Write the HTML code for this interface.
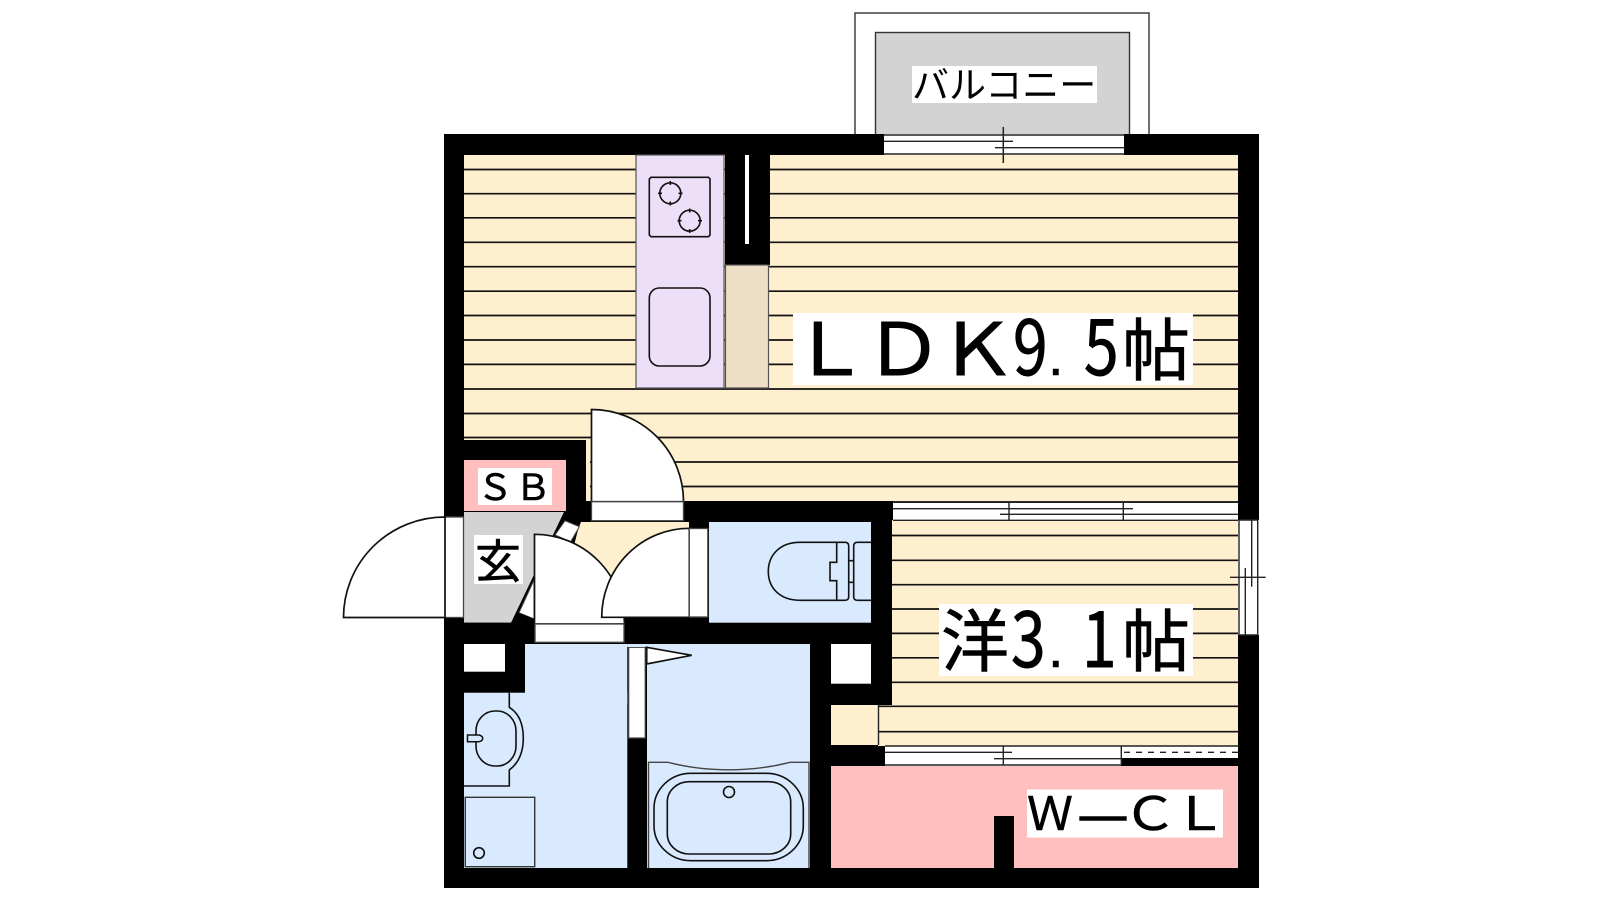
<!DOCTYPE html>
<html lang="ja"><head><meta charset="utf-8"><title>間取り図</title>
<style>
html,body{margin:0;padding:0;background:#fff}
svg{display:block}
text{font-family:"Liberation Sans","Noto Sans CJK JP",sans-serif;fill:#000}
.n{font-family:"Noto Sans CJK JP","Liberation Sans",sans-serif;stroke:#000;stroke-width:.9}
.b{stroke:#000;stroke-width:.6}
.f{stroke:#333;stroke-width:1.3}
.k{fill:none;stroke:#111;stroke-width:1.6}
.d{fill:#fff;stroke:#111;stroke-width:1.7}
.w{fill:#fff;stroke:#444;stroke-width:1.3}
</style></head><body>
<svg width="1600" height="900" viewBox="0 0 1600 900" xmlns="http://www.w3.org/2000/svg">
<rect width="1600" height="900" fill="#fff"/>

<!-- balcony -->
<rect x="855" y="13" width="294" height="125" fill="#fff" stroke="#333" stroke-width="1.4"/>
<rect x="875.5" y="32.5" width="254" height="105" fill="#d3d3d3" stroke="#333" stroke-width="1.4"/>
<rect x="912" y="66" width="185" height="37" fill="#fff"/>
<text x="912" y="98" font-size="37">バルコニー</text>

<!-- outer black mass -->
<rect x="444" y="134" width="815" height="754" fill="#000"/>

<!-- cream rooms -->
<rect x="464" y="155" width="774" height="346" fill="#feefcf"/>
<rect x="892" y="520" width="346" height="226" fill="#feefcf"/>
<rect x="878" y="705" width="360" height="41" fill="#feefcf"/>
<rect x="831" y="705" width="47" height="40" fill="#feefcf"/>
<line x1="878.5" y1="705" x2="878.5" y2="745" stroke="#222" stroke-width="1.4"/>

<!-- floor lines -->
<g stroke="#111" stroke-width="1.7">
<path d="M464 169.5H1238M464 193.7H1238M464 217.8H1238M464 242.3H1238M464 266.7H1238M464 291.2H1238M464 315.5H1238M464 340H1238M464 364.4H1238M464 389H1238M464 413.5H1238M464 437.5H1238M590 462H1238M590 486.5H1238"/>
<path d="M892 535.5H1238M892 560.3H1238M892 584.7H1238M892 609H1238M892 633.4H1238M892 657.8H1238M892 682.3H1238M878 706.3H1238M878 731.7H1238"/>
</g>

<!-- interior black walls over the wood floor -->
<rect x="464" y="440" width="122" height="20" fill="#000"/>
<rect x="566" y="440" width="20" height="70" fill="#000"/>

<!-- SB -->
<rect x="464" y="460" width="102" height="51" fill="#ffbfbf"/>
<rect x="478" y="468" width="74" height="37" fill="#fff"/>
<text class="b" x="477 515" y="500" font-size="36">ＳＢ</text>

<!-- entry corridor fill -->
<rect x="586" y="501" width="105" height="21" fill="#000"/>
<polygon points="580,522 689,522 689,623 612,623 612,600 560,600" fill="#feefcf"/>

<!-- genkan -->
<polygon points="464,512 564,512 511,622.7 464,622.7" fill="#d3d3d3"/>
<polygon points="566,511 591,511 591,522 581,522 573,541 555,535" fill="#000"/>
<polygon points="565,520.7 579.3,526.7 570.7,541.7 555,535" fill="#fff" stroke="#444" stroke-width="1"/>
<polygon points="534,580 534,619 519,612.7" fill="#fff" stroke="#444" stroke-width="1"/>
<polygon points="511,622.7 518,612.7 536,619.5 536,626" fill="#000"/>
<rect x="474" y="535" width="49" height="49" fill="#fff"/>
<text class="b" x="475" y="578" font-size="46">玄</text>

<!-- left door -->
<rect x="445" y="517" width="18.5" height="100.5" class="w"/>
<path d="M445 517A101.5 100.5 0 0 0 343.5 617.5H445Z" class="d"/>

<!-- walls near entry -->
<rect x="444" y="622.7" width="91" height="21.5" fill="#000"/>
<rect x="624" y="617" width="85" height="27" fill="#000"/>
<rect x="689" y="501" width="20" height="28" fill="#000"/>

<!-- door top -->
<path d="M591.5 409.5A92 92 0 0 1 683.5 501.7H591.5Z" class="d"/>
<rect x="591.5" y="501.7" width="92" height="19" class="w"/>

<!-- door center -->
<path d="M534.5 534.3A90 90 0 0 1 624.5 624H534.5Z" class="d"/>
<rect x="535" y="624" width="89" height="18.3" class="w"/>

<!-- door right -->
<path d="M689.3 528.3A87.6 89 0 0 0 601.7 617.3H689.3Z" class="d"/>
<rect x="689.3" y="528.5" width="18.5" height="88.5" class="w"/>

<!-- toilet room -->
<rect x="709" y="522" width="162" height="100.7" fill="#d9eafe"/>
<path d="M836.7 542.3H800C780 542.3 768.3 555 768.3 571.5C768.3 588 780 600.3 800 600.3H836.7" class="k"/>
<path d="M836.7 542.3H845Q848.7 542.3 848.7 546V596.5Q848.7 600.3 845 600.3H836.7V580.7H830V562.3H836.7Z" class="k"/>
<path d="M871 542.3H857.5Q853.7 542.3 853.7 546V596.5Q853.7 600.3 857.5 600.3H871" class="k"/>
<path d="M848.7 560.7H853.7M848.7 582.3H853.7" class="k"/>

<!-- wash room -->
<rect x="464" y="692.7" width="163.3" height="175.3" fill="#d9eafe"/>
<rect x="525" y="644" width="102.3" height="60" fill="#d9eafe"/>
<rect x="464" y="644" width="41" height="27.7" fill="#fff"/>
<path d="M509.3 692.7V707.3C520 714 523.3 726 523.3 738C523.3 750 520 762 509.3 770V786H464" class="k"/>
<rect x="476" y="711" width="40" height="55" rx="19" ry="20" class="k"/>
<path d="M467.5 735H479Q482.7 736 482.7 738.3Q482.7 741 479 741.7H467.5Z" fill="#d9eafe" stroke="#111" stroke-width="1.5"/>
<rect x="465.3" y="797.3" width="69.4" height="69.4" fill="#d9eafe" stroke="#333" stroke-width="1.4"/>
<circle cx="479" cy="853" r="5.3" class="k"/>

<!-- bath -->
<rect x="647" y="644" width="163" height="224" fill="#d9eafe"/>
<rect x="628.7" y="647.3" width="16.5" height="90.7" fill="#fff" stroke="#444" stroke-width="1.2"/>
<rect x="627.3" y="644" width="19.7" height="3" fill="#d9eafe"/>
<polygon points="646.7,647.3 691.7,655.3 646.7,664" class="d"/>
<path d="M648.5 868V762.3H668C690 768 710 769.8 729 769.8C748 769.8 768 768 790 762.3H809V868" fill="#d9eafe" stroke="#444" stroke-width="1.4"/>
<rect x="654" y="773.3" width="149.3" height="87.4" rx="37" ry="35" class="k"/>
<rect x="667.3" y="781.7" width="123.4" height="72.3" rx="22" ry="20" class="k"/>
<circle cx="729" cy="792" r="5.5" class="k"/>

<!-- closet column -->
<rect x="810" y="644" width="21" height="224" fill="#000"/>
<rect x="810" y="683.7" width="82" height="21.3" fill="#000"/>
<rect x="871" y="501" width="21" height="204" fill="#000"/>
<rect x="831" y="644" width="40" height="39.7" fill="#fff"/>

<!-- kitchen -->
<rect x="636" y="155" width="88" height="233" fill="#ecdff7" stroke="#555" stroke-width="1.2"/>
<path d="M651 177.3H708.5L710 179V235L708.5 236.7H651L649.3 235V179Z" class="k"/>
<circle cx="670.3" cy="193.3" r="10.5" class="k"/>
<circle cx="689.7" cy="220.7" r="10.5" class="k"/>
<path d="M670.3 181V185M670.3 201.5V205.5M658 193.3H662M678.5 193.3H682.5M689.7 208.5V212.5M689.7 229V233M677.5 220.7H681.5M698 220.7H702" class="k"/>
<rect x="649.3" y="288" width="60.7" height="78" rx="10" class="k"/>
<rect x="725" y="155" width="45" height="110" fill="#000"/>
<rect x="745" y="155" width="4" height="89" fill="#fff"/>
<rect x="725.5" y="265" width="43" height="123" fill="#eedec5" stroke="#555" stroke-width="1.2"/>

<!-- LDK label -->
<rect x="793" y="313" width="400" height="72" fill="#fff"/>
<g transform="scale(1.1 1)"><text class="n" x="718.3 785.5 852.5" y="375" font-size="72">ＬＤＫ</text></g>
<g transform="translate(1013 375) scale(.82 1)"><text class="n" font-size="76">9</text></g>
<g transform="translate(1084 375) scale(.82 1)"><text class="n" font-size="76">5</text></g>
<text class="b" x="1048" y="375" font-size="56" style="font-family:'Liberation Sans',sans-serif">.</text>
<text class="b" x="1122" y="375" font-size="68">帖</text>

<!-- western label -->
<rect x="939" y="604" width="254" height="72" fill="#fff"/>
<text class="b" x="941" y="666" font-size="68">洋</text>
<g transform="translate(1011 667) scale(.82 1)"><text class="n" font-size="76">3</text></g>
<text class="b" x="1048" y="667" font-size="56" style="font-family:'Liberation Sans',sans-serif">.</text>
<g transform="translate(1082 667) scale(.82 1)"><text class="n" font-size="76">1</text></g>
<text class="b" x="1122" y="666" font-size="68">帖</text>

<!-- top window -->
<rect x="884" y="134" width="240" height="21" fill="#fff"/>
<path d="M884 135H1124M884 154H1124M884 141.3H1013M995 147.7H1124" stroke="#222" stroke-width="1.4" fill="none"/>
<line x1="1003.3" y1="127" x2="1003.3" y2="163" stroke="#222" stroke-width="1.5"/>

<!-- LDK/west window -->
<rect x="893" y="501.5" width="345" height="19" fill="#fff"/>
<path d="M893 502.3H1238M893 520.3H1238M893 508.7H1133M1000 514.3H1238M1009 502V520M1123.3 502V520" stroke="#222" stroke-width="1.4" fill="none"/>

<!-- right window -->
<rect x="1238" y="520" width="21" height="115" fill="#fff"/>
<path d="M1239 520V635M1257.7 520V635M1239 520H1257.7M1239 635H1257.7M1245.3 568V635M1251.7 520V586.7M1230 577.3H1265.7" stroke="#222" stroke-width="1.4" fill="none"/>

<!-- WCL window -->
<rect x="885" y="746" width="353" height="20" fill="#fff"/>
<rect x="1121" y="758" width="117" height="8" fill="#000"/>
<path d="M885 746H1238M885 765H1121M885 752.3H1012M994 758.7H1121M1003.3 746V765M1121.3 746V765" stroke="#222" stroke-width="1.4" fill="none"/>
<line x1="1124" y1="752.3" x2="1238" y2="752.3" stroke="#222" stroke-width="1.4" stroke-dasharray="6 6"/>

<!-- WCL -->
<rect x="831" y="766" width="407" height="102" fill="#ffbfbf"/>
<rect x="994" y="816" width="20" height="52" fill="#000"/>
<rect x="1027" y="789.5" width="196" height="48" fill="#fff"/>
<text class="b" x="1027" y="830" font-size="46">Ｗ</text>
<text x="1080" y="830" font-size="46" stroke="#000" stroke-width="1.4">―</text>
<g transform="scale(1.17 1)"><text class="b" x="959.9 1002.6" y="830" font-size="46">ＣＬ</text></g>
</svg>
</body></html>
